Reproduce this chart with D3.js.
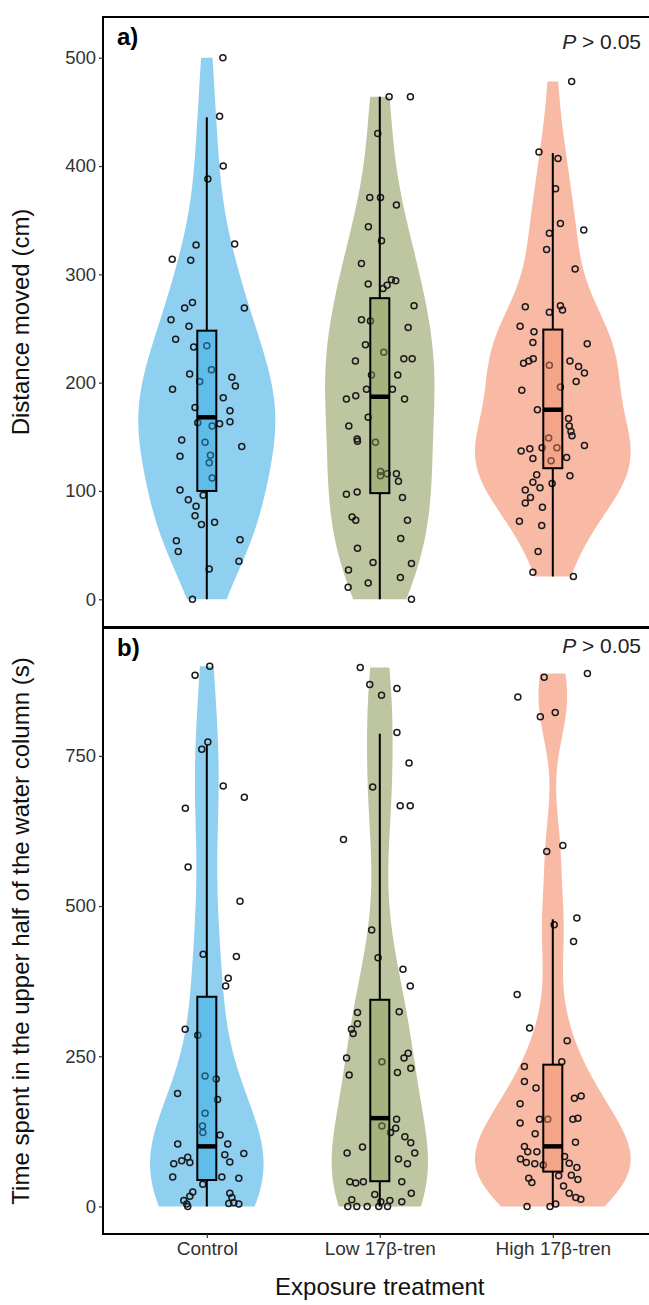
<!DOCTYPE html>
<html><head><meta charset="utf-8">
<script src="https://cdn.jsdelivr.net/npm/d3@7"></script>
<style>body{margin:0;background:#fff}svg{display:block}text{font-family:"Liberation Sans",Arial,sans-serif}</style>
</head><body><svg id="c" width="649" height="1305"></svg>
<script>
const categories = ["Control","Low 17β-tren","High 17β-tren"];
const ticksA = [0,100,200,300,400,500];
const ticksB = [0,250,500,750];
const annotA = 512, annotB = 917;

// Panel a: distance moved (cm)
const distControl = [500,446,400,388,327,328,314,313,274,269,269,258,252,240,233,234,212,208,201,205,197,194,186,177,174,163,160,162,164,147,141,145,132,133,126,112,96,101,92,86,77,69,71,54,44,55,35,28,0];
const distControlJit = [.093,.074,.095,.006,-.062,.161,-.200,-.093,-.083,-.128,.217,-.207,-.103,-.180,-.076,0,.027,-.099,-.041,.145,.165,-.198,.095,-.068,.134,-.052,.031,.074,.134,-.145,.202,-.010,-.155,.021,.014,.031,-.021,-.155,-.107,-.062,-.068,-.031,.045,-.176,-.165,.192,.186,.014,-.083];
const distLow = [464,464,430,371,371,364,344,331,310,291,287,290,295,294,271,258,257,251,235,228,220,222,222,207,207,194,194,185,188,185,168,160,148,146,145,118,114,116,116,109,97,99,94,76,73,73,56,47,34,33,27,20,11,15,0];
const distLowJit = [.054,.177,-.012,-.058,.004,.096,-.066,.010,-.106,-.067,.019,.042,.067,.092,.198,-.106,-.054,.164,-.083,.023,-.141,.139,.187,-.048,.104,-.077,.073,-.193,-.139,.143,-.067,-.179,-.131,-.129,-.025,.004,.004,.042,.096,.108,-.193,-.131,.131,-.160,-.139,.160,.121,-.129,-.039,.183,-.181,.119,-.183,-.067,.183];
const distHigh = [478,413,407,379,347,341,338,323,305,270,265,271,267,252,247,237,236,218,220,222,216,220,215,209,201,196,193,175,167,160,155,151,149,137,139,140,140,142,130,131,128,115,114,108,107,101,103,94,89,85,72,68,44,25,21];
const distHighJit = [.109,-.080,.030,.016,.044,.179,-.020,-.036,.129,-.159,-.020,.044,.056,-.189,-.109,-.115,.199,-.169,-.139,-.113,-.020,.099,.149,.183,.135,.044,-.179,-.089,.091,.095,.105,.111,-.024,-.183,-.133,-.062,.024,.183,-.115,.080,-.010,-.093,.099,-.115,-.004,-.159,-.074,-.129,-.159,-.060,-.193,-.064,-.085,-.115,.119];
const distLo = [0,0,21], distQ1 = [100,98,121], distMed = [168,187,175], distQ3 = [248,278,249], distHi = [445,464,412];

// Panel b: time in upper half (s)
const timeControl = [899,884,773,761,700,681,663,565,508,420,416,380,367,295,285,217,212,188,178,155,134,123,119,104,104,86,88,82,76,73,71,74,49,49,47,37,24,22,17,15,10,6,5,4,4,0];
const timeControlJit = [.017,-.068,.006,-.029,.095,.217,-.124,-.108,.192,-.021,.171,.124,.109,-.125,-.052,-.010,.054,-.169,.062,-.010,-.025,-.023,.077,.121,-.168,.104,.214,-.110,-.145,-.098,-.191,.133,-.197,.087,.185,-.023,-.081,.133,-.098,.145,-.133,.156,.127,.185,-.116,-.110];
const timeLow = [897,869,851,862,789,738,698,667,667,611,460,414,395,367,323,324,304,295,288,247,255,247,230,219,223,241,145,130,123,116,106,89,89,99,134,79,71,41,39,41,41,20,22,11,8,10,8,0,0,0,0,0];
const timeLowJit = [-.113,-.058,.010,.099,.099,.169,-.041,.118,.176,-.210,-.047,-.010,.134,.176,-.129,.112,-.129,-.164,-.154,-.192,.164,.140,.179,-.177,.102,.012,.097,.092,.062,.145,.179,.202,-.189,-.100,.012,.108,.160,-.173,-.139,-.095,.127,-.029,.182,-.162,.006,.058,.127,-.185,-.133,-.073,-.006,.045];
const timeHigh = [881,887,848,815,822,591,601,469,480,441,353,297,276,241,233,208,197,180,184,171,145,145,145,147,139,121,107,100,91,91,79,83,73,71,69,72,65,47,40,51,52,45,34,22,15,12,0,0,4];
const timeHighJit = [-.050,.200,-.202,-.072,.014,-.035,.058,.008,.139,.120,-.206,-.134,.083,.052,-.164,-.164,-.097,.125,.164,-.189,-.077,-.029,.116,.145,-.189,-.102,.131,-.164,-.145,-.092,-.187,.068,-.153,-.104,-.055,.095,.139,-.139,-.121,.034,.107,.145,.062,.095,.133,.162,-.149,-.016,.017];
const timeLo = [0,0,0], timeQ1 = [44,42,58], timeMed = [100,147,100], timeQ3 = [349,344,236], timeHi = [768,787,478];

const violinFill = ["#8fcff0","#bdc6a0","#f9baa5"];
const boxFill = ["#27a7e2","#889c54","#f08b66"];

const svg = d3.select("#c");
const L = 103, R = 103 + 3.2*173;
const x = d3.scalePoint().domain(categories).range([L, R]).padding(0.6);
const step = x.step();

function kde(vals){
  const s = vals.slice().sort(d3.ascending), n = s.length;
  const sd = d3.deviation(s), iqr = d3.quantile(s,.75)-d3.quantile(s,.25);
  const bw = 0.9*Math.min(sd, iqr/1.34)*Math.pow(n,-0.2);
  const lo = s[0], hi = s[n-1];
  return d3.range(512).map(i=>{
    const v = lo + (hi-lo)*i/511; let d = 0;
    for (const xi of s){ const u=(v-xi)/bw; d += Math.exp(-0.5*u*u); }
    return [v, d/(n*bw*Math.sqrt(2*Math.PI))];
  });
}

function panel(cfg){
  const {top, bottom, maxV, ticks, groups, jits, lo, q1, med, q3, hi, tag, title, pOff} = cfg;
  const ext = 0.05*maxV;
  const y = d3.scaleLinear().domain([-ext, maxV+ext]).range([bottom, top]);
  const g = svg.append("g");
  const dens = groups.map(kde);
  const maxD = d3.max(dens, d=>d3.max(d, p=>p[1]));
  const hw = 0.9*step/2;
  dens.forEach((d,i)=>{
    const cx = x(categories[i]);
    g.append("path").attr("d", d3.area().y(p=>y(p[0])).x0(p=>cx - hw*p[1]/maxD).x1(p=>cx + hw*p[1]/maxD)(d))
      .attr("fill", violinFill[i]);
  });
  groups.forEach((vals,i)=>{
    const cx = x(categories[i]);
    g.selectAll(null).data(vals).join("circle")
      .attr("cx",(v,j)=>cx + jits[i][j]*step).attr("cy", v=>y(v)).attr("r",3)
      .attr("fill","none").attr("stroke","#1a1a1a").attr("stroke-width",1.5);
  });
  const bw = 0.11*step;
  categories.forEach((c,i)=>{
    const cx = x(c);
    g.append("line").attr("x1",cx).attr("x2",cx).attr("y1",y(lo[i])).attr("y2",y(q1[i])).attr("stroke","#000").attr("stroke-width",2);
    g.append("line").attr("x1",cx).attr("x2",cx).attr("y1",y(q3[i])).attr("y2",y(hi[i])).attr("stroke","#000").attr("stroke-width",2);
    g.append("rect").attr("x",cx-bw/2).attr("width",bw).attr("y",y(q3[i])).attr("height",y(q1[i])-y(q3[i]))
      .attr("fill",boxFill[i]).attr("fill-opacity",0.45).attr("stroke","#000").attr("stroke-width",2);
    g.append("line").attr("x1",cx-bw/2).attr("x2",cx+bw/2).attr("y1",y(med[i])).attr("y2",y(med[i])).attr("stroke","#000").attr("stroke-width",4.5);
  });
  g.append("rect").attr("x",L).attr("y",top).attr("width",R-L).attr("height",bottom-top).attr("fill","none").attr("stroke","#000").attr("stroke-width",2);
  const ax = g.append("g").attr("transform",`translate(${L},0)`).call(d3.axisLeft(y).tickValues(ticks).tickSize(4).tickPadding(3));
  ax.select(".domain").remove();
  ax.selectAll(".tick line").attr("stroke","#333").attr("stroke-width",1.2);
  ax.selectAll(".tick text").attr("font-size",18.5).attr("fill","#333").attr("font-family","Liberation Sans");
  g.append("text").attr("x",117).attr("y",top+28).attr("font-size",24).attr("font-weight","bold").text(tag);
  const pt = g.append("text").attr("x",641).attr("y",top+pOff).attr("text-anchor","end").attr("font-size",21).attr("fill","#222");
  pt.append("tspan").attr("font-style","italic").text("P");
  pt.append("tspan").text(" > 0.05");
  g.append("text").attr("transform",`translate(29,${(top+bottom)/2}) rotate(-90)`).attr("text-anchor","middle").attr("font-size",24).attr("fill","#111").text(title);
  return y;
}

panel({top:17, bottom:627, maxV:annotA, ticks:ticksA, groups:[distControl,distLow,distHigh], jits:[distControlJit,distLowJit,distHighJit],
  lo:distLo, q1:distQ1, med:distMed, q3:distQ3, hi:distHi, tag:"a)", title:"Distance moved (cm)", pOff:32});
panel({top:628, bottom:1234, maxV:annotB, ticks:ticksB, groups:[timeControl,timeLow,timeHigh], jits:[timeControlJit,timeLowJit,timeHighJit],
  lo:timeLo, q1:timeQ1, med:timeMed, q3:timeQ3, hi:timeHi, tag:"b)", title:"Time spent in the upper half of the water column (s)", pOff:25});

const xa = svg.append("g").attr("transform","translate(0,1234)").call(d3.axisBottom(x).tickSize(4).tickPadding(4));
xa.select(".domain").remove();
xa.selectAll(".tick line").attr("stroke","#333").attr("stroke-width",1.2);
xa.selectAll(".tick text").attr("font-size",19).attr("fill","#333").attr("font-family","Liberation Sans");
svg.append("text").attr("x",(L+R)/2).attr("y",1295).attr("text-anchor","middle").attr("font-size",24).attr("fill","#111").text("Exposure treatment");
</script></body></html>
